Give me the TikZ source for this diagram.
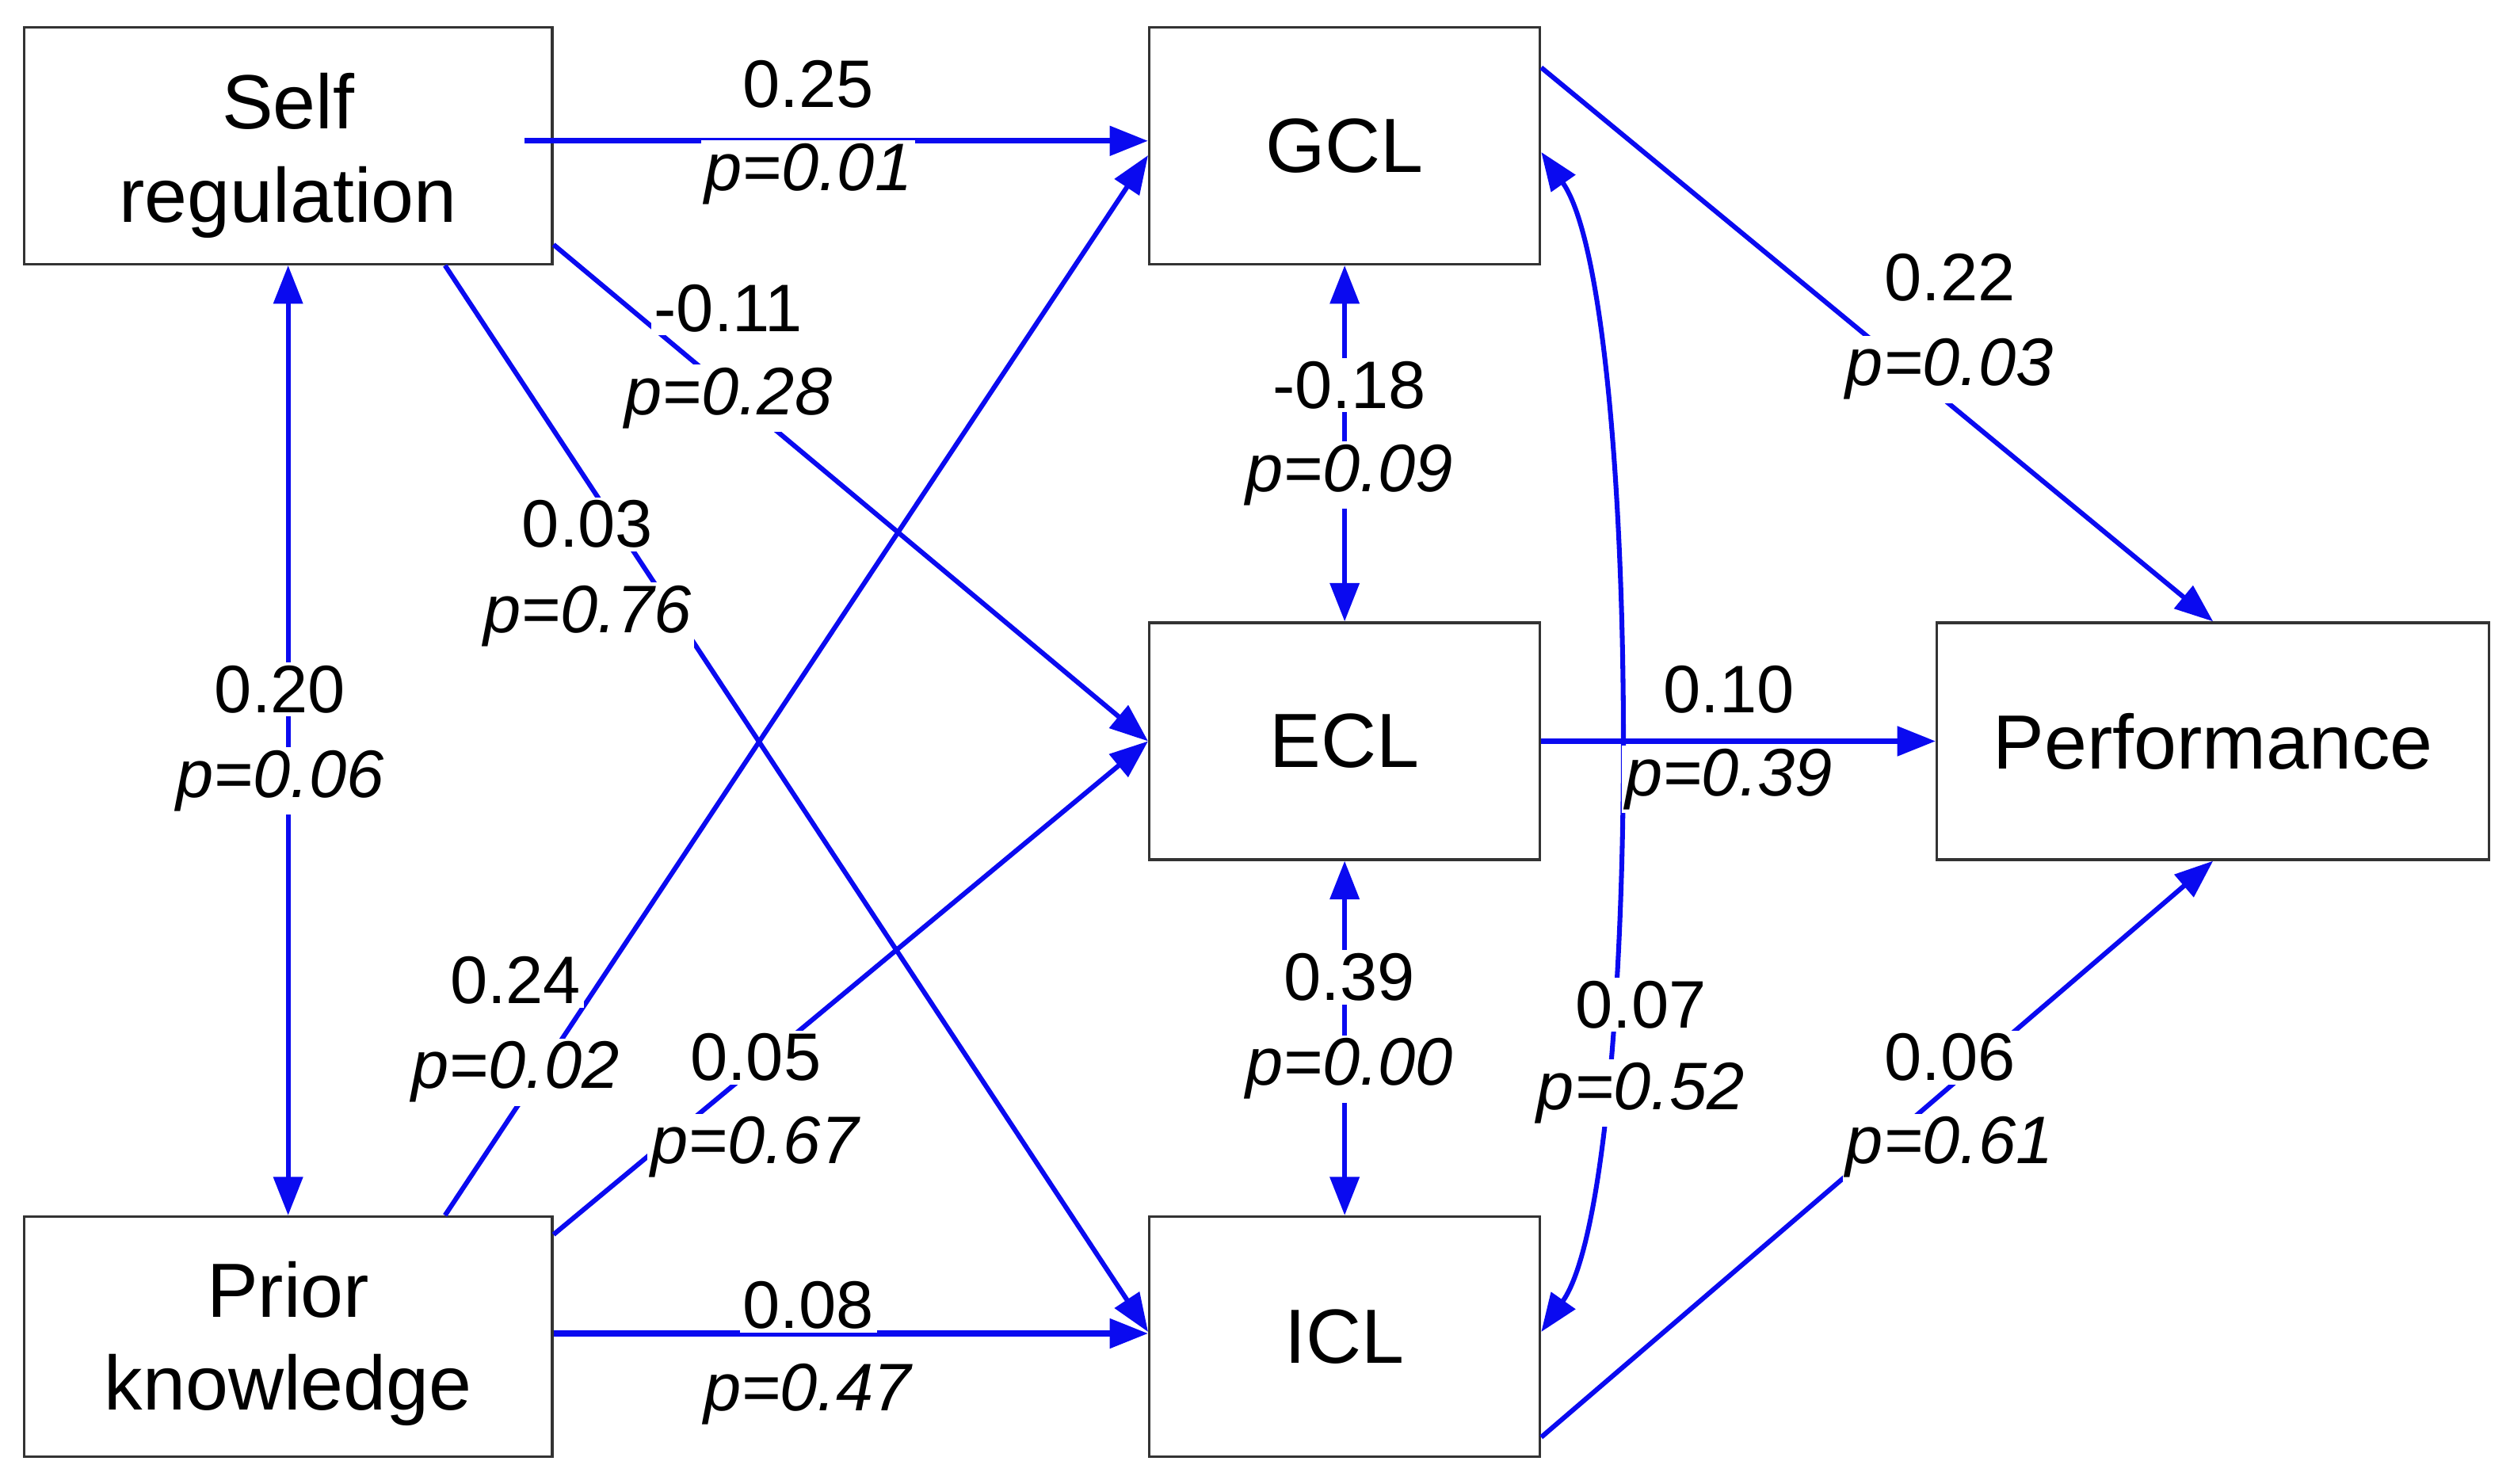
\documentclass[tikz,border=0pt]{standalone}
\usepackage{fontspec}
\setmainfont{Liberation Sans}
\usetikzlibrary{arrows.meta}
\definecolor{lineblue}{RGB}{10,10,240}
\newcommand{\lowertext}[2]{\raisebox{-#1}[\height][\depth]{\begin{tabular}{@{}c@{}}#2\end{tabular}}}
\begin{document}
\begin{tikzpicture}[x=1pt,y=-1pt,
  boxnode/.style={draw=black!80, line width=1.6pt, rectangle, inner sep=0pt, align=center,
    minimum height=148pt, font=\fontsize{48}{58}\selectfont},
  tip/.tip={Triangle[length=24pt,width=18pt]},
  conn/.style={draw=lineblue, line width=3pt, -tip},
  biconn/.style={draw=lineblue, line width=3pt, tip-tip},
  horiz/.style={line width=3.6pt},
  lab/.style={fill=white, inner sep=2pt, anchor=base, font=\fontsize{42}{50}\selectfont}]
\useasboundingbox[fill=white] (0,0) rectangle (1568,927);

% boxes
\node[boxnode, minimum width=330pt] (sr) at (180,91) {\lowertext{7pt}{Self\\regulation}};
\node[boxnode, minimum width=330pt, minimum height=150pt] (pk) at (180,835) {\lowertext{5pt}{Prior\\knowledge}};
\node[boxnode, minimum width=244pt] (gcl) at (840,91) {GCL};
\node[boxnode, minimum width=244pt] (ecl) at (840,463) {ECL};
\node[boxnode, minimum width=244pt, minimum height=150pt] (icl) at (840,835) {ICL};
\node[boxnode, minimum width=345pt] (perf) at (1382.5,463) {Performance};

% connectors
\draw[conn, horiz] ([xshift=-18pt,yshift=3pt]sr.east) -- ([yshift=3pt]gcl.west);
\draw[conn] ([yshift=13pt]sr.south east) -- (ecl.west);
\draw[conn] ([xshift=98pt]sr.south) -- ([yshift=3pt]icl.west);
\draw[conn] ([xshift=98pt]pk.north) -- ([yshift=-6pt]gcl.west);
\draw[conn] ([yshift=-12pt]pk.north east) -- (ecl.west);
\draw[conn, horiz] ([yshift=2pt]pk.east) -- ([yshift=2pt]icl.west);
\draw[biconn] (sr.south) -- (pk.north);
\draw[biconn] (gcl.south) -- (ecl.north);
\draw[biconn] (ecl.south) -- (icl.north);
\draw[conn] ([yshift=-26pt]gcl.north east) -- (perf.north);
\draw[conn, horiz] (ecl.east) -- (perf.west);
\draw[conn] ([yshift=13pt]icl.south east) -- (perf.south);
\draw[biconn] ([yshift=-4pt]gcl.east) .. controls +(64,91) and +(64,-91) .. ([yshift=3pt]icl.east);

% labels
\node[lab] (l1a) at (505,67) {0.25};
\node[lab] (l1b) at (505,119) {\textit{p=0.01}};
\node[lab] (l2a) at (455,207) {-0.11};
\node[lab] (l2b) at (455,259) {\textit{p=0.28}};
\node[lab] (l3a) at (367,342) {0.03};
\node[lab] (l3b) at (367,395) {\textit{p=0.76}};
\node[lab] (l4a) at (175,445) {0.20};
\node[lab] (l4b) at (175,498) {\textit{p=0.06}};
\node[lab] (l5a) at (322,627) {0.24};
\node[lab] (l5b) at (322,680) {\textit{p=0.02}};
\node[lab] (l6a) at (472,675) {0.05};
\node[lab] (l6b) at (472,727) {\textit{p=0.67}};
\node[lab] (l7a) at (505,830) {0.08};
\node[lab] (l7b) at (505,881) {\textit{p=0.47}};
\node[lab] (l8a) at (843,255) {-0.18};
\node[lab] (l8b) at (843,307) {\textit{p=0.09}};
\node[lab] (l9a) at (843,625) {0.39};
\node[lab] (l9b) at (843,678) {\textit{p=0.00}};
\node[lab] (l10a) at (1218,188) {0.22};
\node[lab] (l10b) at (1218,241) {\textit{p=0.03}};
\node[lab] (l11a) at (1080,445) {0.10};
\node[lab] (l11b) at (1080,497) {\textit{p=0.39}};
\node[lab] (l12a) at (1025,642) {0.07};
\node[lab] (l12b) at (1025,693) {\textit{p=0.52}};
\node[lab] (l13a) at (1218,675) {0.06};
\node[lab] (l13b) at (1218,727) {\textit{p=0.61}};
\end{tikzpicture}
\end{document}
